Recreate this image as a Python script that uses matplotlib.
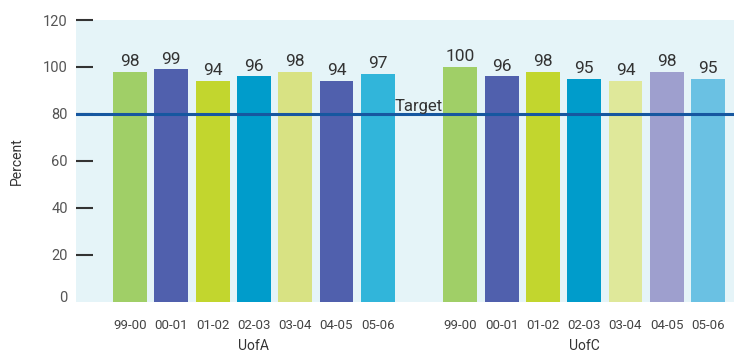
import matplotlib
matplotlib.use("Agg")
import matplotlib.pyplot as plt
import matplotlib.transforms as mtransforms

plt.rcParams['font.family'] = ['Roboto', 'DejaVu Sans']

# Satisfaction by year, two institutions
years = ["99-00", "00-01", "01-02", "02-03", "03-04", "04-05", "05-06"]
groups = ["UofA", "UofC"]
uofa_values = [98, 99, 94, 96, 98, 94, 97]
uofc_values = [100, 96, 98, 95, 94, 98, 95]
target = 80

uofa_colors = ["#a0cf67", "#5060ad", "#c2d62e", "#009ccb", "#d8e283", "#5060ad", "#31b5da"]
uofc_colors = ["#a0cf67", "#5060ad", "#c2d62e", "#009ccb", "#dfe89a", "#9e9fce", "#6ac1e3"]

n = len(years)
gap = 1
pos_a = list(range(n))
pos_c = [p + n + gap for p in pos_a]

fig = plt.figure(figsize=(7.34, 3.54), dpi=100)
ax = fig.add_axes([0.1035, 0.147, 0.8965, 0.7965])
ax.set_facecolor("#e5f4f8")

bars_a = ax.bar(pos_a, uofa_values, width=0.82, color=uofa_colors, zorder=2)
bars_c = ax.bar(pos_c, uofc_values, width=0.82, color=uofc_colors, zorder=2)
for bars in (bars_a, bars_c):
    ax.bar_label(bars, padding=2, fontsize=12.5, color="#333333")

ax.axhline(target, color="#1657a0", lw=2.2, zorder=3)
ax.text(n - 1 + (gap + 1) / 2, target + 1.2, "Target", ha="center", va="baseline",
        fontsize=12, color="#333333", zorder=4)

ax.set_xlim(-1.31, pos_c[-1] + 0.63)
ax.set_ylim(0, 120)

ax.set_xticks(pos_a + pos_c)
ax.set_xticklabels(years + years, fontsize=9.5, color="#444444")
ax.tick_params(axis="x", length=0, pad=12)

ax.set_yticks(range(0, 121, 20))
ax.tick_params(axis="y", direction="in", length=12.5, width=1.5, color="#333333",
               pad=6, labelsize=10.5, labelcolor="#555555")
ax.yaxis.get_major_ticks()[0].tick1line.set_visible(False)
zero_label = ax.get_yticklabels()[0]
zero_label.set_transform(zero_label.get_transform() +
                         mtransforms.ScaledTranslation(0, 4 / 72, fig.dpi_scale_trans))

for s in ax.spines.values():
    s.set_visible(False)

ax.set_ylabel("Percent", fontsize=10, color="#333333", labelpad=14)

for label, pos in zip(groups, (pos_a, pos_c)):
    ax.text(pos[n // 2], -0.156, label, transform=ax.get_xaxis_transform(),
            ha="center", va="center", fontsize=10, color="#333333")

fig.savefig("out.png", dpi=100)
